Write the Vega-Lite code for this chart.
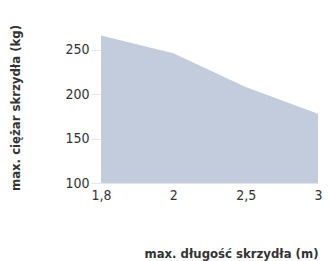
{
  "$schema": "https://vega.github.io/schema/vega-lite/v6.json",
  "width": 217,
  "height": 151,
  "autosize": "none",
  "padding": {"left": 101, "top": 32, "right": 10, "bottom": 78},
  "background": "white",
  "config": {"view": {"stroke": null}, "font": "DejaVu Sans Condensed"},
  "data": {"values": [
    {"len": "1,8", "kg": 266},
    {"len": "2", "kg": 246},
    {"len": "2,5", "kg": 208},
    {"len": "3", "kg": 178}
  ]},
  "mark": {"type": "area", "color": "#c3ccdc", "opacity": 1},
  "encoding": {
    "x": {"field": "len", "type": "ordinal", "sort": null, "scale": {"type": "point", "padding": 0},
      "axis": {"title": "max. długość skrzydła (m)", "labelAngle": 0, "labelFontSize": 14, "labelColor": "#333", "labelPadding": 5,
        "ticks": false, "domainColor": "#e6e6e6", "titleFontSize": 13, "titleFontWeight": "bold", "titleColor": "#333",
        "titleAnchor": "end", "titlePadding": 45}},
    "y": {"field": "kg", "type": "quantitative", "scale": {"domain": [100, 270], "nice": false, "zero": false},
      "axis": {"title": "max. ciężar skrzydła (kg)", "values": [100, 150, 200, 250], "labelFontSize": 14, "labelColor": "#333",
        "domain": false, "grid": false, "tickColor": "#e6e6e6", "tickSize": 10, "labelPadding": 2,
        "titleFontSize": 13, "titleFontWeight": "bold", "titleColor": "#333", "titlePadding": 42}},
    "y2": {"datum": 100}
  }
}
